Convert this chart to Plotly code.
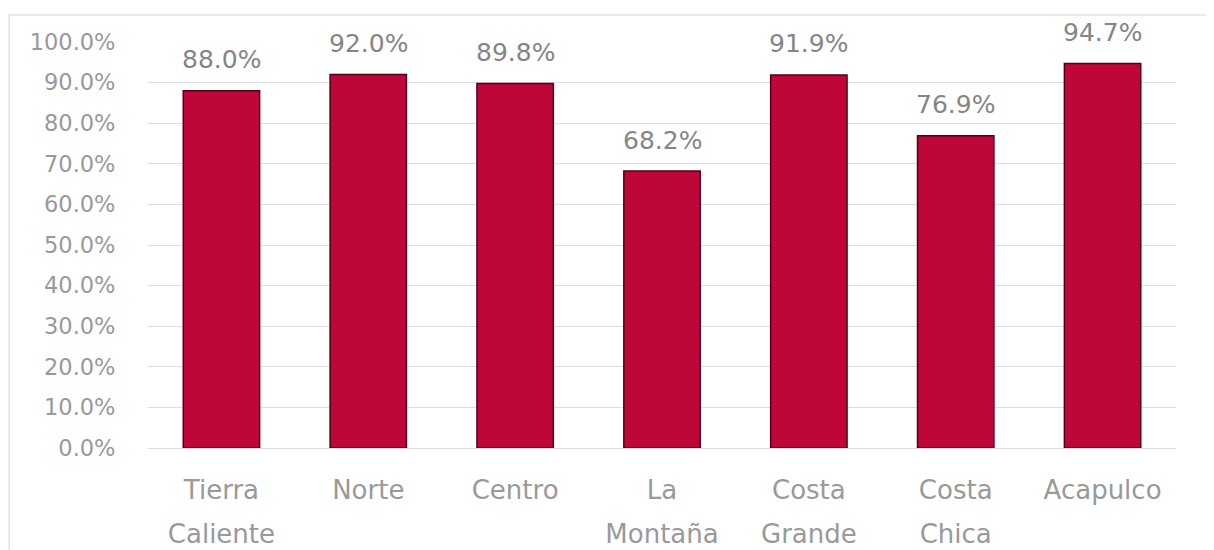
import plotly.graph_objects as go

line1 = ["Tierra", "Norte", "Centro", "La", "Costa", "Costa", "Acapulco"]
line2 = ["Caliente", "", "", "Montaña", "Grande", "Chica", ""]
values = [88.0, 92.0, 89.8, 68.2, 91.9, 76.9, 94.7]
y_ticks = [0, 10, 20, 30, 40, 50, 60, 70, 80, 90, 100]

FONT = "DejaVu Sans"
GRAY = "#999999"
xs = list(range(len(values)))

fig = go.Figure()
fig.add_trace(go.Bar(
    x=xs, y=values, width=0.52,
    marker=dict(color="#BF0638", line=dict(color="#4f0018", width=1.5)),
    hoverinfo="skip", showlegend=False,
))
fig.add_trace(go.Scatter(x=xs, y=[None] * len(xs), xaxis="x2", showlegend=False,
                         hoverinfo="skip", mode="markers"))

for x, v in zip(xs, values):
    fig.add_annotation(x=x, y=v, text=f"{v:.1f}%", showarrow=False,
                       yanchor="middle", yshift=31,
                       font=dict(family=FONT, size=25, color="#858585"))

fig.add_shape(type="rect", xref="paper", yref="paper",
              x0=-0.1351, x1=1.0306, y0=-0.3, y1=1.0665,
              line=dict(color="#e2e2e2", width=1.5), layer="below")

fig.update_layout(
    width=1206, height=542,
    margin=dict(l=139.5, r=37.5, t=34, b=102),
    paper_bgcolor="white", plot_bgcolor="white",
    xaxis=dict(range=[-0.5, 6.5], tickvals=xs, ticktext=line1, automargin=False,
               ticks="outside", ticklen=19, tickcolor="rgba(0,0,0,0)",
               tickfont=dict(family=FONT, size=26, color=GRAY),
               showgrid=False, zeroline=False, showline=False),
    xaxis2=dict(range=[-0.5, 6.5], tickvals=xs, ticktext=line2, automargin=False,
                overlaying="x", side="bottom", anchor="y",
                ticks="outside", ticklen=63, tickcolor="rgba(0,0,0,0)",
                tickfont=dict(family=FONT, size=26, color=GRAY),
                showgrid=False, zeroline=False, showline=False),
    yaxis=dict(range=[0, 100], tickvals=y_ticks, automargin=False,
               ticktext=[f"{t:.1f}%" for t in y_ticks],
               ticks="outside", ticklen=27, tickcolor="rgba(0,0,0,0)",
               tickfont=dict(family=FONT, size=22.5, color=GRAY),
               showgrid=True, gridcolor="#dedede", gridwidth=1,
               zeroline=True, zerolinecolor="#dedede", zerolinewidth=1),
)

fig.write_html("out.html")
